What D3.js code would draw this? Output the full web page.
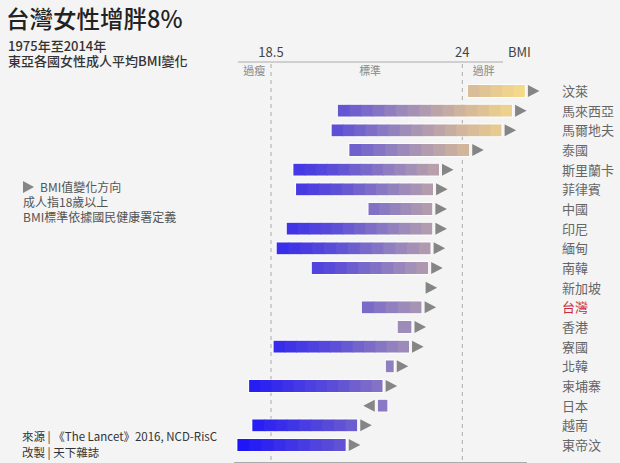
<!DOCTYPE html>
<html>
<head>
<meta charset="utf-8">
<script src="https://cdn.jsdelivr.net/npm/d3@7"></script>
<style>
  html, body { margin: 0; padding: 0; background: #f4f4f4; }
  svg { display: block; font-family: "Noto Sans CJK TC", "Noto Sans", sans-serif; }
</style>
</head>
<body>
<div id="chart"></div>
<script>
// BMI change 1975 -> 2014, adult women, East Asia
const countries = ["汶萊", "馬來西亞", "馬爾地夫", "泰國", "斯里蘭卡", "菲律賓", "中國", "印尼", "緬甸", "南韓",
  "新加坡", "台灣", "香港", "寮國", "北韓", "柬埔寨", "日本", "越南", "東帝汶"];
const bmi1975 = [24.16, 20.42, 20.24, 20.75, 19.14, 19.22, 21.30, 18.95, 18.66, 19.67,
  22.84, 21.11, 22.14, 18.57, 21.80, 17.87, 21.85, 17.96, 17.53];
const bmi2014 = [25.80, 25.43, 25.13, 24.20, 23.33, 23.16, 23.14, 23.14, 23.09, 23.02,
  22.86, 22.83, 22.54, 22.47, 22.03, 21.71, 21.57, 20.98, 20.65];
const thresholds = [18.5, 24];
const zones = [{label: "過瘦", at: 17.7, anchor: "start"}, {label: "標準", at: 21.35, anchor: "middle"}, {label: "過胖", at: 24.3, anchor: "start"}];
const highlight = "台灣";

const W = 620, H = 463;
const svg = d3.select("#chart").append("svg").attr("width", W).attr("height", H);
svg.append("rect").attr("width", W).attr("height", H).attr("fill", "#f4f4f4");

// scales
const x = d3.scaleLinear().domain([18.5, 24]).range([271, 462.3]);
const y = d3.scalePoint().domain(countries).range([91, 445]);
const color = d3.scaleLinear()
  .domain([17.5, 20.4, 22.3, 24.1, 25.8])
  .range(["#1a12fa", "#5e50d6", "#9c8aba", "#d4b89a", "#f8dc88"])
  .interpolate(d3.interpolateRgb);

// title block
svg.append("text").attr("x", 6).attr("y", 28).attr("font-size", 23.5).attr("font-weight", 500)
  .attr("fill", "#222").text("台灣女性增胖8%");
svg.append("text").attr("x", 8).attr("y", 51).attr("font-size", 13).attr("font-weight", 500)
  .attr("fill", "#333").text("1975年至2014年");
svg.append("text").attr("x", 8).attr("y", 66).attr("font-size", 13).attr("font-weight", 500)
  .attr("fill", "#333").text("東亞各國女性成人平均BMI變化");

// top axis
const axisY = 62;
svg.append("line").attr("x1", 238).attr("x2", 503).attr("y1", axisY).attr("y2", axisY)
  .attr("stroke", "#aaa").attr("stroke-width", 1);
thresholds.forEach(t => {
  svg.append("text").attr("x", x(t)).attr("y", 57).attr("text-anchor", "middle")
    .attr("font-size", 13).attr("fill", "#444").text(t);
  svg.append("line").attr("x1", x(t)).attr("x2", x(t)).attr("y1", axisY + 2).attr("y2", 461)
    .attr("stroke", "#aaa").attr("stroke-dasharray", "4,4");
});
svg.append("text").attr("x", 508).attr("y", 57).attr("font-size", 13).attr("fill", "#444").text("BMI");
zones.forEach(z => {
  svg.append("text").attr("x", x(z.at)).attr("y", 75).attr("text-anchor", z.anchor)
    .attr("font-size", 11).attr("fill", "#888").text(z.label);
});

// bottom line
svg.append("line").attr("x1", 234).attr("x2", 527).attr("y1", 462.5).attr("y2", 462.5)
  .attr("stroke", "#aaa");

// bars made of small colour blocks
const barH = 12, step = 0.33;
const rows = svg.append("g").selectAll("g").data(countries).join("g")
  .attr("transform", d => `translate(0,${y(d)})`);

rows.each(function(c, i) {
  const g = d3.select(this);
  const a = bmi1975[i], b = bmi2014[i];
  const lo = Math.min(a, b), hi = Math.max(a, b);
  if (hi - lo > 0.05) {
    const n = Math.max(1, Math.round((hi - lo) / step));
    const w = (hi - lo) / n;
    for (let k = 0; k < n; k++) {
      const v0 = lo + k * w, v1 = v0 + w;
      const last = k === n - 1;
      g.append("rect").attr("x", x(v0)).attr("y", -barH / 2)
        .attr("width", x(v1) - x(v0) + (last ? 0 : 1)).attr("height", barH)
        .attr("fill", color((v0 + v1) / 2));
    }
    g.append("rect").attr("x", x(lo) - 0.5).attr("y", -barH / 2 - 0.5)
      .attr("width", x(hi) - x(lo) + 1).attr("height", barH + 1)
      .attr("fill", "none").attr("stroke", "#fff").attr("stroke-opacity", 0.7).attr("stroke-width", 1);
  }
  // direction arrow
  const up = b >= a;
  const ex = x(b) + (up ? 3 : -3);
  const tw = 11.5, th = 12;
  const pts = up
    ? [[ex, -th / 2], [ex + tw, 0], [ex, th / 2]]
    : [[ex, -th / 2], [ex - tw, 0], [ex, th / 2]];
  g.append("path").attr("d", d3.line()(pts) + "Z").attr("fill", "#858585");
  g.append("text").attr("x", 562).attr("y", 5).attr("font-size", 13)
    .attr("fill", c === highlight ? "#d0283c" : "#666").text(c);
});

// legend notes
svg.append("path").attr("d", d3.line()([[23, 181], [34, 187], [23, 193]]) + "Z").attr("fill", "#858585");
svg.append("text").attr("x", 40).attr("y", 192).attr("font-size", 12).attr("fill", "#555").text("BMI值變化方向");
svg.append("text").attr("x", 23).attr("y", 207).attr("font-size", 12).attr("fill", "#555").text("成人指18歲以上");
svg.append("text").attr("x", 23).attr("y", 222).attr("font-size", 12).attr("fill", "#555").text("BMI標準依據國民健康署定義");

// source
svg.append("text").attr("x", 22).attr("y", 441).attr("font-size", 11.5).attr("fill", "#333")
  .text("來源 | 《The Lancet》2016, NCD-RisC");
svg.append("text").attr("x", 22).attr("y", 457).attr("font-size", 11.5).attr("fill", "#333")
  .text("改製 | 天下雜誌");
</script>
</body>
</html>
